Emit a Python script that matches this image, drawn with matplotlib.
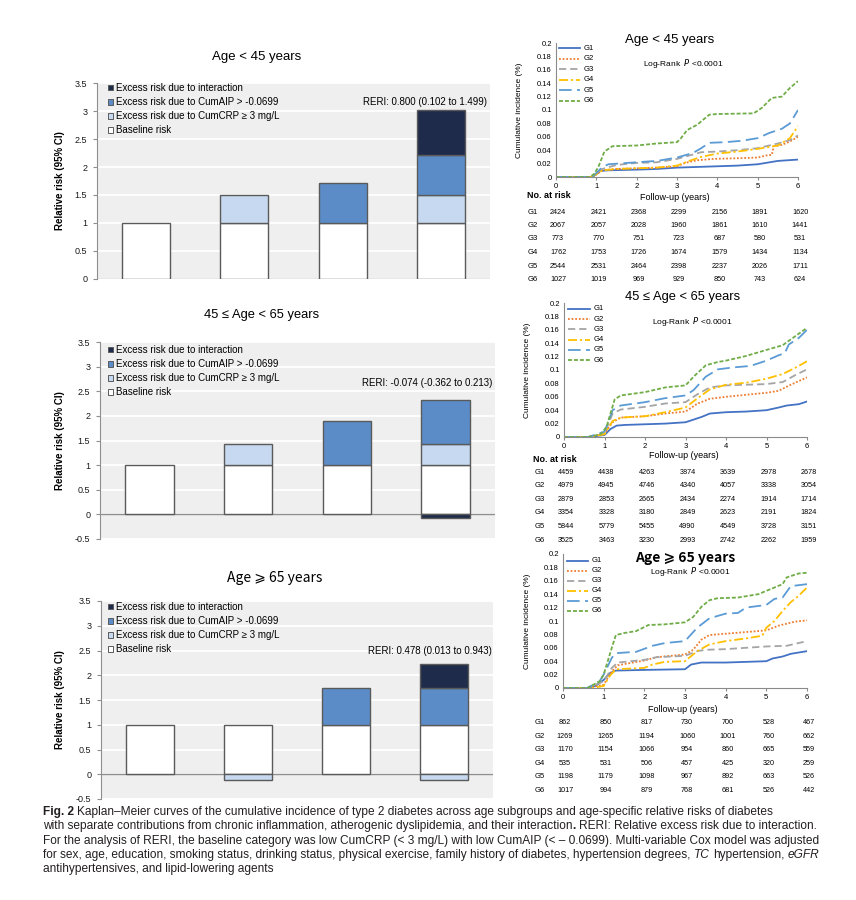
import matplotlib
matplotlib.use('Agg')
import matplotlib.pyplot as plt
from matplotlib import font_manager
from matplotlib.patches import Patch
from matplotlib.lines import Line2D
from matplotlib.transforms import blended_transform_factory
import numpy as np

# ------------------------------------------------------------------ data
bar_titles = ['Age < 45 years', '45 ≤ Age < 65 years', 'Age ⩾ 65 years']
bar_groups = [0, 1, 2, 3]
baseline_risk = [1.0, 1.0, 1.0, 1.0]
crp_lt45 = [0, 0.50, 0, 0.50]
aip_lt45 = [0, 0, 0.71, 0.71]
int_lt45 = [0, 0, 0, 0.80]
crp_45_65 = [0, 0.42, 0, 0.42]
aip_45_65 = [0, 0, 0.90, 0.90]
int_45_65 = [0, 0, 0, -0.074]
crp_ge65 = [0, -0.12, 0, -0.12]
aip_ge65 = [0, 0, 0.75, 0.75]
int_ge65 = [0, 0, 0, 0.478]
reri_labels = ['RERI: 0.800 (0.102 to 1.499)',
               'RERI: -0.074 (-0.362 to 0.213)',
               'RERI: 0.478 (0.013 to 0.943)']
bar_legend = ['Excess risk due to interaction',
              'Excess risk due to CumAIP > -0.0699',
              'Excess risk due to CumCRP ≥ 3 mg/L',
              'Baseline risk']
bar_yticks = [0, 0.5, 1, 1.5, 2, 2.5, 3, 3.5]

km_titles = ['Age < 45 years', '45 ≤ Age < 65 years', 'Age ⩾ 65 years']
km_groups = ['G1', 'G2', 'G3', 'G4', 'G5', 'G6']
km_xticks = [0, 1, 2, 3, 4, 5, 6]
km_yticks = [0, 0.02, 0.04, 0.06, 0.08, 0.1, 0.12, 0.14, 0.16, 0.18, 0.2]

# Age < 45 curves (time, cumulative incidence)
lt45_G1 = [(0, 0), (0.9, 0), (1.0, 0.004), (1.1, 0.009), (1.3, 0.010), (2.0, 0.011), (2.5, 0.012),
           (3.0, 0.014), (3.5, 0.015), (4.0, 0.016), (4.5, 0.017), (5.0, 0.019), (5.3, 0.022),
           (5.5, 0.024), (6.0, 0.026)]
lt45_G2 = [(0, 0), (0.9, 0), (1.0, 0.004), (1.15, 0.010), (1.5, 0.012), (2.0, 0.013), (2.5, 0.014),
           (3.0, 0.016), (3.2, 0.021), (3.5, 0.025), (3.9, 0.027), (4.5, 0.028), (5.0, 0.029),
           (5.2, 0.032), (5.35, 0.033), (5.4, 0.046), (5.6, 0.048), (5.8, 0.053), (6.0, 0.060)]
lt45_G3 = [(0, 0), (0.9, 0), (1.0, 0.005), (1.15, 0.012), (1.5, 0.018), (2.0, 0.021), (2.5, 0.022),
           (3.0, 0.027), (3.3, 0.032), (3.6, 0.037), (4.0, 0.038), (4.5, 0.040), (5.0, 0.043),
           (5.5, 0.050), (5.8, 0.055), (6.0, 0.062)]
lt45_G4 = [(0, 0), (0.9, 0), (1.0, 0.004), (1.15, 0.010), (1.5, 0.012), (2.0, 0.013), (2.5, 0.014),
           (3.0, 0.017), (3.3, 0.024), (3.6, 0.030), (4.0, 0.035), (4.5, 0.038), (5.0, 0.042),
           (5.5, 0.047), (5.8, 0.058), (6.0, 0.076)]
lt45_G5 = [(0, 0), (0.9, 0), (1.0, 0.006), (1.15, 0.015), (1.3, 0.019), (2.0, 0.022), (2.5, 0.024),
           (3.0, 0.029), (3.4, 0.036), (3.6, 0.043), (3.8, 0.051), (4.2, 0.052), (4.6, 0.054),
           (5.0, 0.058), (5.3, 0.066), (5.6, 0.072), (5.8, 0.080), (6.0, 0.100)]
lt45_G6 = [(0, 0), (0.85, 0), (0.95, 0.005), (1.05, 0.015), (1.2, 0.038), (1.4, 0.046), (2.0, 0.047),
           (2.5, 0.050), (3.0, 0.052), (3.1, 0.058), (3.25, 0.070), (3.5, 0.078), (3.8, 0.093),
           (4.0, 0.094), (4.9, 0.095), (5.1, 0.103), (5.35, 0.118), (5.6, 0.120), (5.8, 0.133),
           (6.0, 0.143)]

# 45 <= Age < 65 curves
mid_G1 = [(0, 0), (0.6, 0), (1.0, 0.003), (1.15, 0.012), (1.3, 0.017), (1.5, 0.018), (2.0, 0.019),
          (2.5, 0.020), (3.0, 0.022), (3.2, 0.026), (3.4, 0.030), (3.6, 0.035), (4.0, 0.037),
          (4.5, 0.038), (5.0, 0.040), (5.3, 0.044), (5.5, 0.047), (5.8, 0.049), (6.0, 0.053)]
mid_G2 = [(0, 0), (0.6, 0), (1.0, 0.005), (1.2, 0.022), (1.4, 0.029), (2.0, 0.031), (2.5, 0.035),
          (3.0, 0.038), (3.3, 0.050), (3.6, 0.057), (4.0, 0.060), (4.5, 0.063), (5.0, 0.066),
          (5.3, 0.069), (5.6, 0.078), (6.0, 0.089)]
mid_G3 = [(0, 0), (0.6, 0), (1.0, 0.005), (1.2, 0.035), (1.4, 0.041), (2.0, 0.045), (2.5, 0.050),
          (3.0, 0.052), (3.3, 0.064), (3.6, 0.074), (4.0, 0.077), (4.5, 0.078), (5.0, 0.079),
          (5.4, 0.082), (5.7, 0.092), (6.0, 0.101)]
mid_G4 = [(0, 0), (0.6, 0), (1.0, 0.004), (1.2, 0.024), (1.4, 0.029), (2.0, 0.031), (2.5, 0.037),
          (3.0, 0.044), (3.3, 0.058), (3.6, 0.071), (4.0, 0.078), (4.5, 0.081), (5.0, 0.087),
          (5.4, 0.094), (5.7, 0.103), (6.0, 0.113)]
mid_G5 = [(0, 0), (0.6, 0), (1.0, 0.008), (1.2, 0.040), (1.4, 0.047), (2.0, 0.052), (2.5, 0.058),
          (3.0, 0.062), (3.2, 0.070), (3.5, 0.090), (3.8, 0.101), (4.2, 0.104), (4.6, 0.106),
          (5.0, 0.114), (5.3, 0.122), (5.45, 0.125), (5.55, 0.138), (5.8, 0.148), (6.0, 0.160)]
mid_G6 = [(0, 0), (0.6, 0), (0.9, 0.004), (1.05, 0.015), (1.25, 0.056), (1.4, 0.062), (2.0, 0.067),
          (2.5, 0.074), (3.0, 0.077), (3.2, 0.090), (3.5, 0.107), (3.8, 0.112), (4.0, 0.114),
          (4.5, 0.121), (5.0, 0.130), (5.4, 0.137), (5.7, 0.150), (6.0, 0.163)]

# Age >= 65 curves
ge65_G1 = [(0, 0), (0.6, 0), (0.8, 0.003), (1.0, 0.012), (1.15, 0.022), (1.3, 0.026), (2.0, 0.027),
           (3.0, 0.028), (3.15, 0.035), (3.4, 0.038), (4.0, 0.038), (5.0, 0.040), (5.15, 0.044),
           (5.4, 0.047), (5.6, 0.051), (6.0, 0.055)]
ge65_G2 = [(0, 0), (0.6, 0), (1.0, 0.005), (1.2, 0.025), (1.35, 0.034), (2.0, 0.041), (2.3, 0.046),
           (3.0, 0.050), (3.2, 0.057), (3.4, 0.072), (3.6, 0.079), (4.0, 0.081), (5.0, 0.086),
           (5.3, 0.093), (5.7, 0.099), (6.0, 0.101)]
ge65_G3 = [(0, 0), (0.6, 0), (1.0, 0.010), (1.2, 0.030), (1.35, 0.038), (2.0, 0.042), (2.3, 0.046),
           (3.0, 0.048), (3.3, 0.055), (3.5, 0.057), (4.0, 0.058), (5.0, 0.062), (5.5, 0.063),
           (6.0, 0.070)]
ge65_G4 = [(0, 0), (0.7, 0), (1.0, 0.003), (1.15, 0.018), (1.3, 0.028), (2.0, 0.030), (2.2, 0.035),
           (2.5, 0.039), (3.0, 0.040), (3.3, 0.055), (3.6, 0.065), (4.0, 0.070), (4.5, 0.074),
           (4.9, 0.078), (5.0, 0.090), (5.2, 0.100), (5.4, 0.115), (5.6, 0.128), (5.8, 0.138),
           (6.0, 0.150)]
ge65_G5 = [(0, 0), (0.6, 0), (0.9, 0.010), (1.0, 0.020), (1.2, 0.045), (1.3, 0.052), (1.8, 0.054),
           (2.2, 0.063), (2.5, 0.067), (3.0, 0.070), (3.3, 0.090), (3.6, 0.104), (4.0, 0.111),
           (4.3, 0.112), (4.5, 0.120), (5.0, 0.124), (5.2, 0.133), (5.4, 0.135), (5.6, 0.152),
           (6.0, 0.155)]
ge65_G6 = [(0, 0), (0.6, 0), (0.9, 0.010), (1.0, 0.020), (1.2, 0.060), (1.3, 0.079), (1.5, 0.082),
           (1.8, 0.085), (2.1, 0.094), (2.5, 0.095), (3.0, 0.098), (3.2, 0.106), (3.4, 0.121),
           (3.6, 0.131), (3.8, 0.134), (4.3, 0.135), (4.8, 0.140), (5.0, 0.145), (5.2, 0.150),
           (5.4, 0.155), (5.5, 0.165), (5.8, 0.171), (6.0, 0.172)]

# numbers at risk (rows G1..G6, columns at years 0..6)
risk_lt45 = [[2424, 2421, 2368, 2299, 2156, 1891, 1620],
             [2067, 2057, 2028, 1960, 1861, 1610, 1441],
             [773, 770, 751, 723, 687, 580, 531],
             [1762, 1753, 1726, 1674, 1579, 1434, 1134],
             [2544, 2531, 2464, 2398, 2237, 2026, 1711],
             [1027, 1019, 969, 929, 850, 743, 624]]
risk_mid = [[4459, 4438, 4263, 3874, 3639, 2978, 2678],
            [4979, 4945, 4746, 4340, 4057, 3338, 3054],
            [2879, 2853, 2665, 2434, 2274, 1914, 1714],
            [3354, 3328, 3180, 2849, 2623, 2191, 1824],
            [5844, 5779, 5455, 4990, 4549, 3728, 3151],
            [3525, 3463, 3230, 2993, 2742, 2262, 1959]]
risk_ge65 = [[862, 850, 817, 730, 700, 528, 467],
             [1269, 1265, 1194, 1060, 1001, 760, 662],
             [1170, 1154, 1066, 954, 860, 665, 559],
             [535, 531, 506, 457, 425, 320, 259],
             [1198, 1179, 1098, 967, 892, 663, 526],
             [1017, 994, 879, 768, 681, 526, 442]]

caption_lines = [
    [('Fig. 2', 'bold', 'normal'), (' Kaplan–Meier curves of the cumulative incidence of type 2 diabetes across age subgroups and age-specific relative risks of diabetes', 'normal', 'normal')],
    [('with separate contributions from chronic inflammation, atherogenic dyslipidemia, and their interaction', 'normal', 'normal'), ('.', 'bold', 'normal'), (' RERI: Relative excess risk due to interaction.', 'normal', 'normal')],
    [('For the analysis of RERI, the baseline category was low CumCRP (< 3 mg/L) with low CumAIP (< – 0.0699). Multi-variable Cox model was adjusted', 'normal', 'normal')],
    [('for sex, age, education, smoking status, drinking status, physical exercise, family history of diabetes, hypertension degrees, ', 'normal', 'normal'), ('TC', 'normal', 'italic'), (' hypertension, ', 'normal', 'normal'), ('eGFR', 'normal', 'italic')],
    [('antihypertensives, and lipid-lowering agents', 'normal', 'normal')],
]

# ------------------------------------------------------------------ style
W, H = 856, 900
installed = {f.name for f in font_manager.fontManager.ttflist}
SANS = ['Liberation Sans', 'DejaVu Sans']
CJK = ['Noto Sans CJK SC', 'DejaVu Sans']
NARROW = ['Liberation Sans Narrow', 'DejaVu Sans'] if 'Liberation Sans Narrow' in installed else SANS
plt.rcParams['font.family'] = SANS

fig = plt.figure(figsize=(W / 100, H / 100), dpi=100)
fig.patch.set_facecolor('white')


def fx(px):
    return px / W


def fy(py):
    return 1 - py / H


def axes_px(x0, x1, y0, y1):
    return fig.add_axes([fx(x0), fy(y1), (x1 - x0) / W, (y1 - y0) / H])


C_INT, C_AIP, C_CRP, C_BASE = '#1F2B4B', '#5B8CC8', '#C6D9F0', '#FFFFFF'
EDGE = '#5a5a5a'
BG = '#F0EFEF'

bar_sets = [
    (crp_lt45, aip_lt45, int_lt45),
    (crp_45_65, aip_45_65, int_45_65),
    (crp_ge65, aip_ge65, int_ge65),
]
bar_boxes = [(97, 490, 83, 279, 0.0), (100, 495, 342, 539, -0.5), (101, 493, 601, 799, -0.5)]
bar_title_pos = [(257, 57, SANS, 9.5), (262, 315, SANS, 9.3), (275, 578, CJK, 10)]
reri_pos = [(487, 102), (492, 383), (492, 651)]
legend_top = [83, 345, 602]

for i in range(3):
    x0, x1, y0, y1, ymin = bar_boxes[i]
    ax = axes_px(x0, x1, y0, y1)
    ax.set_facecolor(BG)
    ax.set_xlim(-0.5, 3.5)
    ax.set_ylim(ymin, 3.5)
    crp, aip, inter = bar_sets[i]
    xs = np.array(bar_groups, dtype=float)
    pos_b = np.zeros(4)
    neg_b = np.zeros(4)
    for vals, col in [(baseline_risk, C_BASE), (crp, C_CRP), (aip, C_AIP), (inter, C_INT)]:
        v = np.array(vals, dtype=float)
        bottoms = np.where(v >= 0, pos_b, neg_b)
        m = v != 0
        ax.bar(xs[m], v[m], bottom=bottoms[m], width=0.49, color=col, edgecolor=EDGE,
               linewidth=1.0, zorder=3)
        pos_b += np.clip(v, 0, None)
        neg_b += np.clip(v, None, 0)
    ax.axhline(0, color='#8f8f8f', lw=1.0, zorder=2)
    ticks = ([-0.5] if ymin < 0 else []) + bar_yticks
    ax.set_yticks(ticks)
    ax.set_yticklabels(['%g' % t for t in ticks], fontsize=6.5)
    ax.yaxis.grid(True, color='white', lw=1.3, zorder=1)
    ax.set_axisbelow(True)
    ax.set_xticks([])
    for s in ['top', 'right', 'bottom']:
        ax.spines[s].set_visible(False)
    ax.spines['left'].set_color('#8f8f8f')
    ax.tick_params(axis='y', length=3, color='#8f8f8f', pad=4, labelcolor='#1a1a1a')
    ax.set_ylabel('Relative risk (95% CI)', fontsize=7, fontweight='bold')
    ax.yaxis.set_label_coords(-(x0 - 65) / (x1 - x0), 0.5)
    tx, ty, fam, fs = bar_title_pos[i]
    fig.text(fx(tx), fy(ty), bar_titles[i], ha='center', va='center', fontsize=fs, family=fam)
    rx, ry = reri_pos[i]
    fig.text(fx(rx), fy(ry), reri_labels[i], ha='right', va='center', fontsize=7)
    handles = [Patch(facecolor=c, edgecolor=EDGE, linewidth=0.7) for c in (C_INT, C_AIP, C_CRP, C_BASE)]
    ax.legend(handles, bar_legend, loc='upper left',
              bbox_to_anchor=((108 - x0) / (x1 - x0), 1 - (legend_top[i] - y0) / (y1 - y0)),
              frameon=False, fontsize=7, handlelength=0.55, handleheight=0.55,
              handletextpad=0.25, labelspacing=0.42, borderaxespad=0, borderpad=0)

# ---------------------------------------------------------------- KM panels
km_styles = [
    dict(color='#4472C4', ls='-'),
    dict(color='#ED7D31', ls=(0, (1, 1))),
    dict(color='#A5A5A5', ls=(0, (4, 2.2))),
    dict(color='#FFC000', ls=(0, (5, 1.6, 1.2, 1.6))),
    dict(color='#5B9BD5', ls=(0, (7, 3))),
    dict(color='#70AD47', ls=(0, (2.2, 1.1))),
]
km_curves = [
    [lt45_G1, lt45_G2, lt45_G3, lt45_G4, lt45_G5, lt45_G6],
    [mid_G1, mid_G2, mid_G3, mid_G4, mid_G5, mid_G6],
    [ge65_G1, ge65_G2, ge65_G3, ge65_G4, ge65_G5, ge65_G6],
]
km_risk = [risk_lt45, risk_mid, risk_ge65]
km_boxes = [(556, 798, 43, 177), (564, 807, 303, 437), (563, 807, 554, 688)]
km_title_pos = [(670, 40, SANS, 9.5, 'normal'), (683, 297, SANS, 9.3, 'normal'), (685, 558, CJK, 10, 'bold')]
km_logrank = [(643, 63), (652, 322), (650, 571)]
km_leg = [(559, 580, 48, 10.6), (568, 590, 309, 10.2), (567, 588, 561, 10.0)]
km_ylab_x = [523, 531, 531]
km_xlab_y = [197, 455, 709]
km_noatrisk = [(527, 196), (533, 459), None]
km_rows = [(212, 13.5), (472, 13.6), (723, 13.4)]
km_glab_x = [533, 540, 540]

for i in range(3):
    x0, x1, y0, y1 = km_boxes[i]
    ax = axes_px(x0, x1, y0, y1)
    ax.set_xlim(0, 6)
    ax.set_ylim(0, 0.2)
    for g in range(6):
        t = [p[0] for p in km_curves[i][g]]
        v = [p[1] for p in km_curves[i][g]]
        ax.plot(t, v, lw=1.3, **km_styles[g])
    ax.set_xticks(km_xticks)
    ax.set_xticklabels([str(k) for k in km_xticks], fontsize=5.5)
    ax.set_yticks(km_yticks)
    ax.set_yticklabels(['%g' % k for k in km_yticks], fontsize=5.5)
    for s in ['top', 'right']:
        ax.spines[s].set_visible(False)
    for s in ['left', 'bottom']:
        ax.spines[s].set_color('#8a8a8a')
        ax.spines[s].set_linewidth(0.8)
    ax.tick_params(axis='x', length=2, color='#8a8a8a', pad=2)
    ax.tick_params(axis='y', length=0, pad=3)
    ax.set_ylabel('Cumulative incidence (%)', fontsize=6)
    ax.yaxis.set_label_coords(-(x0 - km_ylab_x[i]) / (x1 - x0), 0.5)
    fig.text(fx((x0 + x1) / 2 - 2), fy(km_xlab_y[i]), 'Follow-up (years)', ha='center', va='center', fontsize=6.5)
    tx, ty, fam, fs, fw = km_title_pos[i]
    fig.text(fx(tx), fy(ty), km_titles[i], ha='center', va='center', fontsize=fs, family=fam, fontweight=fw)
    lx, ly = km_logrank[i]
    fig.text(fx(lx), fy(ly), r'Log-Rank  $P$ <0.0001', ha='left', va='center', fontsize=6)
    la, lb, ly0, ldy = km_leg[i]
    for g in range(6):
        yy = fy(ly0 + g * ldy)
        fig.add_artist(Line2D([fx(la), fx(lb)], [yy, yy], lw=1.3, transform=fig.transFigure, **km_styles[g]))
        fig.text(fx(lb + 4), yy, km_groups[g], ha='left', va='center', fontsize=5.5)
    if km_noatrisk[i] is not None:
        nx, ny = km_noatrisk[i]
        fig.text(fx(nx), fy(ny), 'No. at risk', ha='left', va='center', fontsize=6.5, fontweight='bold')
    tr = blended_transform_factory(ax.transData, fig.transFigure)
    r0, rdy = km_rows[i]
    for g in range(6):
        yy = fy(r0 + g * rdy)
        fig.text(fx(km_glab_x[i]), yy, km_groups[g], ha='center', va='center', fontsize=5.5)
        for k, n in enumerate(km_risk[i][g]):
            ax.text(km_xticks[k] + 0.05, yy, str(n), transform=tr, ha='center', va='center', fontsize=5.2)

# ---------------------------------------------------------------- caption
renderer = fig.canvas.get_renderer()
cap_y = [812, 826, 841, 855, 869]
cap_x0 = 43
cap_target_ends = [773, 828, 811, 800]


def measure(txt, size, weight='normal', style='normal'):
    t = fig.text(0, 0, txt, fontsize=size, fontweight=weight, fontstyle=style, family=NARROW)
    w = t.get_window_extent(renderer=renderer).width
    t.remove()
    return w


def seg_width(segs, size):
    total = 0
    sp = measure('a a', size) - measure('aa', size)
    for txt, w, s in segs:
        lead = len(txt) - len(txt.lstrip(' '))
        trail = len(txt) - len(txt.rstrip(' '))
        core = txt.strip(' ')
        total += (lead + trail) * sp + (measure(core, size, w, s) if core else 0)
    return total


size = 8.5
w_now = sum(seg_width(caption_lines[k], size) for k in range(4))
w_ref = sum(e - cap_x0 for e in cap_target_ends)
size = size * w_ref / w_now
sp = measure('a a', size) - measure('aa', size)
for li, segs in enumerate(caption_lines):
    cur = cap_x0
    for txt, wgt, sty in segs:
        lead = len(txt) - len(txt.lstrip(' '))
        trail = len(txt) - len(txt.rstrip(' '))
        core = txt.strip(' ')
        cur += lead * sp
        if core:
            t = fig.text(fx(cur), fy(cap_y[li]), core, fontsize=size, fontweight=wgt, fontstyle=sty,
                         family=NARROW, ha='left', va='center', color='#231f20')
            cur += t.get_window_extent(renderer=renderer).width
        cur += trail * sp

fig.savefig('out.png', dpi=100, facecolor='white')
